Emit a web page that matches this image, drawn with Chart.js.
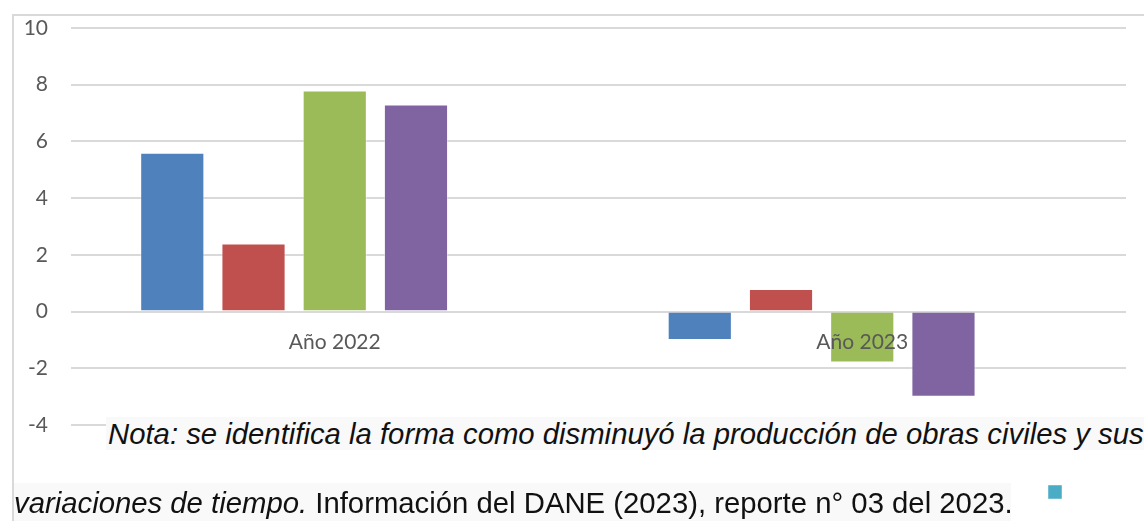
<!DOCTYPE html>
<html lang="es">
<head>
<meta charset="utf-8">
<title>Producción de obras civiles</title>
<script src="https://cdn.jsdelivr.net/npm/chart.js@4/dist/chart.umd.min.js"></script>
<style>
  html, body { margin:0; padding:0; background:#fff; overflow:hidden; }
  #wrap { position:relative; width:1144px; height:521px; }
  #frame { position:absolute; left:12px; top:14px; width:1140px; height:520px;
           border-left:2px solid #d9d9d9; border-top:2px solid #d9d9d9; box-sizing:border-box; }
  canvas { position:absolute; left:0; top:0; }
  .nota { position:absolute; font-family:"Liberation Sans", Arial, sans-serif; font-size:29.3px;
          color:#111; background:#f9f9f9; white-space:nowrap; line-height:33px; }
  #line1 { left:106px; top:417px; width:1040px; height:33px; padding-left:2px; font-style:italic; }
  #line2 { left:14px; top:483px; width:997px; height:38px; padding-top:3px; box-sizing:border-box; }
</style>
</head>
<body>
<div id="wrap">
  <div id="frame"></div>
  <canvas id="chart" width="1144" height="521"></canvas>
  <div class="nota" id="line1">Nota: se identifica la forma como disminuyó la producción de obras civiles y sus</div>
  <div class="nota" id="line2"><i>variaciones de tiempo.</i> Información del DANE (2023), reporte n° 03 del 2023.</div>
</div>
<script>
// data
const categories = ['Año 2022', 'Año 2023'];
const seriesNames = ['Serie1', 'Serie2', 'Serie3', 'Serie4', ''];
const serie1 = [5.6, -1.0];
const serie2 = [2.4, 0.8];
const serie3 = [7.8, -1.8];
const serie4 = [7.3, -3.0];
const serie5 = [null, null];
const yTicks = [-4, -2, 0, 2, 4, 6, 8, 10];

const colors = ['#4f81bd', '#c0504d', '#9bbb59', '#8064a2', '#4bacc6'];
const allSeries = [serie1, serie2, serie3, serie4, serie5];

const axisFont = { family: 'Lato', size: 21 };
const grey = '#595959';

const ctx = document.getElementById('chart').getContext('2d');
new Chart(ctx, {
  type: 'bar',
  data: {
    labels: categories,
    datasets: allSeries.map((d, i) => ({
      label: seriesNames[i],
      data: d,
      backgroundColor: colors[i],
      borderColor: 'rgba(255,255,255,0.45)',
      borderWidth: 1,
      categoryPercentage: 0.77,
      barPercentage: 0.79
    }))
  },
  options: {
    responsive: false,
    animation: false,
    layout: { padding: { left: 0, right: 18, top: 28, bottom: 8.5 } },
    plugins: {
      tooltip: { enabled: false },
      legend: {
        position: 'bottom',
        align: 'end',
        title: { display: true, text: '', font: { size: 1, lineHeight: 1 }, padding: 1 },
        labels: { boxWidth: 14, boxHeight: 14, padding: 53.5, font: axisFont, color: grey }
      }
    },
    scales: {
      x: {
        position: { y: 0 },
        grid: { display: false },
        border: { display: false },
        ticks: { font: axisFont, color: grey, padding: 10, z: 1 }
      },
      y: {
        min: -4,
        max: 10,
        afterBuildTicks: s => { s.ticks = yTicks.map(v => ({ value: v })); },
        afterFit: s => { s.width = 71; s.paddingTop = 0; s.paddingBottom = 0; },
        grid: { color: '#d9d9d9', lineWidth: 2, drawTicks: false },
        border: { display: false },
        ticks: { font: axisFont, color: grey, padding: 23 }
      }
    }
  }
});
</script>
</body>
</html>
